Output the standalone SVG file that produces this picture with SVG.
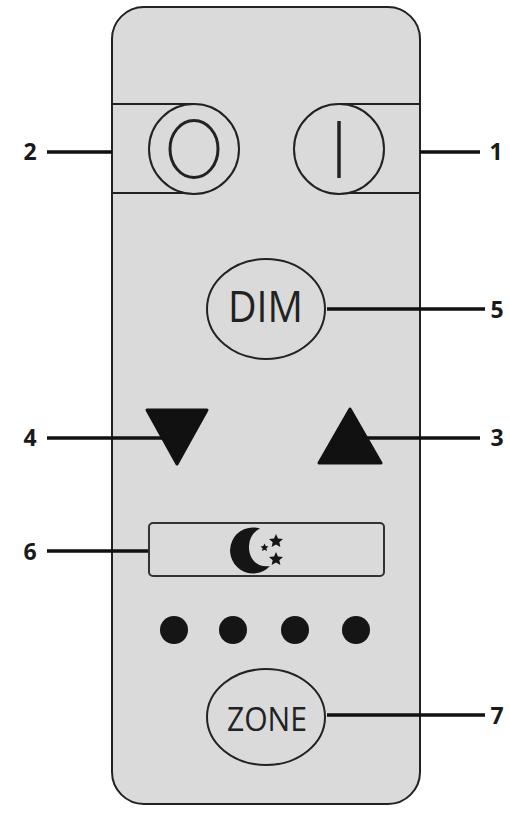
<svg xmlns="http://www.w3.org/2000/svg" width="510" height="823" viewBox="0 0 510 823">
<style>
.b{fill:#dadada;stroke:#222;stroke-width:2}
.t{fill:none;stroke:#222;stroke-width:2}
.c{fill:none;stroke:#111;stroke-width:3.500}
.n{font-family:"Open Sans","Liberation Sans",sans-serif;font-weight:700;font-size:23px;fill:#1a1a1a;text-anchor:middle}
.l{font-family:"Open Sans","Liberation Sans",sans-serif;fill:#222}
.d{fill:#151515}
.r{fill:#111;stroke:#111;stroke-width:3;stroke-linejoin:round}
</style>
<rect width="510" height="823" fill="#fff"/>
<g id="body"><rect x="112" y="7" width="308" height="797" rx="32" class="b"/>
<path d="M112 104H195M112 193H195M338 104H420M338 193H420" class="t"/></g>
<g id="connectors">
<path d="M47 152H112M420 152H480M327 309H485M47 438H175M362 438H480M47 551H149M327 715H485" class="c"/>
</g>
<g id="btn-off"><ellipse cx="194" cy="149" rx="45" ry="45" class="b"/><ellipse cx="194" cy="149" rx="24" ry="28.500" fill="none" stroke="#222" stroke-width="3"/></g>
<g id="btn-on"><circle cx="339" cy="149" r="45" class="b"/><path d="M339 121V178" fill="none" stroke="#222" stroke-width="3.500"/></g>
<g id="btn-dim"><ellipse cx="266" cy="309" rx="59" ry="50" class="b"/><text x="228" y="322" class="l" font-size="44" textLength="75" lengthAdjust="spacingAndGlyphs">DIM</text></g>
<g id="btn-down"><path d="M147 410H207L177 464Z" class="r"/></g>
<g id="btn-up"><path d="M319 463H381L350 409Z" class="r"/></g>
<g id="btn-night"><rect x="149" y="523" width="235" height="53" rx="4" fill="#dadada" stroke="#333" stroke-width="2"/>
<path d="M260 528.500A23 23 0 1 0 270 566C256 568 248.500 558 249 546C249.500 538 253 532 260 528.500Z" class="d"/>
<path d="M276 534l2 4.500 5 .5-3.700 3.200 1.100 4.800-4.400-2.500-4.400 2.500 1.100-4.800-3.700-3.200 5-.5ZM276 552l2 4.500 5 .5-3.700 3.200 1.100 4.800-4.400-2.500-4.400 2.500 1.100-4.800-3.700-3.200 5-.5ZM264.500 543.500l1.200 2.600 2.800.3-2.100 1.900.6 2.800-2.500-1.400-2.500 1.400.6-2.800-2.100-1.900 2.800-.3Z" class="d"/></g>
<g id="leds"><circle cx="174" cy="630" r="14" class="d"/><circle cx="233" cy="630" r="14" class="d"/><circle cx="295" cy="630" r="14" class="d"/><circle cx="356" cy="630" r="14" class="d"/></g>
<g id="btn-zone"><ellipse cx="266" cy="717" rx="59" ry="48" class="b"/><text x="227" y="731" class="l" font-size="33" textLength="80" lengthAdjust="spacingAndGlyphs">ZONE</text></g>
<g id="labels">
<text x="30" y="160" class="n">2</text><text x="496" y="160" class="n">1</text><text x="497" y="318" class="n">5</text>
<text x="30" y="446" class="n">4</text><text x="497" y="446" class="n">3</text><text x="30" y="560" class="n">6</text><text x="497" y="724" class="n">7</text>
</g>
</svg>
